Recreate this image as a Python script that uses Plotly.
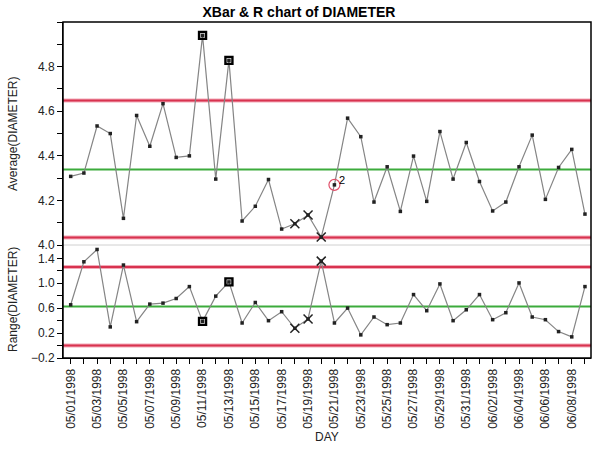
import plotly.graph_objects as go
from plotly.subplots import make_subplots
import pandas as pd

# ---- data ----
days = pd.date_range("1998-05-01", "1998-06-09", freq="D").strftime("%Y-%m-%d").tolist()

xbar = [4.308, 4.323, 4.534, 4.500, 4.120, 4.581, 4.443, 4.634, 4.393, 4.400,
        4.940, 4.296, 4.828, 4.108, 4.174, 4.294, 4.072, 4.096, 4.135, 4.036,
        4.270, 4.569, 4.486, 4.193, 4.351, 4.151, 4.399, 4.196, 4.509, 4.296,
        4.460, 4.285, 4.153, 4.193, 4.351, 4.493, 4.205, 4.348, 4.429, 4.139]

rng = [0.654, 1.344, 1.542, 0.299, 1.292, 0.383, 0.665, 0.681, 0.755, 0.946,
       0.388, 0.793, 1.021, 0.362, 0.691, 0.399, 0.543, 0.277, 0.426, 1.355,
       0.362, 0.601, 0.171, 0.458, 0.335, 0.362, 0.818, 0.559, 0.989, 0.399,
       0.574, 0.818, 0.415, 0.527, 1.005, 0.458, 0.415, 0.224, 0.139, 0.946]

xbar_lcl, xbar_cl, xbar_ucl = 4.034, 4.339, 4.648
r_lcl, r_cl, r_ucl = 0.0, 0.627, 1.262

square_rows = [10, 12]          # row-state markers (0-based)
x_rows = [17, 18, 19]
test2_rows = [20]

xbar_ticks = [4.0, 4.2, 4.4, 4.6, 4.8]
r_ticks = [-0.2, 0.2, 0.6, 1.0, 1.4]

FONT = "Arial, Liberation Sans, sans-serif"

fig = make_subplots(rows=2, cols=1, shared_xaxes=True, vertical_spacing=0,
                    row_heights=[0.664, 0.336])

RED_HALO = "#f3a9b8"
RED = "#d8334f"
GREEN = "#3cab3c"

def hline(row, v, color, halo=None):
    yref = "y" if row == 1 else "y2"
    if halo:
        fig.add_shape(type="line", xref="x domain", yref=yref, x0=0, x1=1, y0=v, y1=v,
                      line=dict(color=halo, width=4), layer="below")
    fig.add_shape(type="line", xref="x domain", yref=yref, x0=0, x1=1, y0=v, y1=v,
                  line=dict(color=color, width=2), layer="below")

for v in (xbar_lcl, xbar_ucl):
    hline(1, v, RED, RED_HALO)
hline(1, xbar_cl, GREEN)
for v in (r_lcl, r_ucl):
    hline(2, v, RED, RED_HALO)
hline(2, r_cl, GREEN)

def add_series(vals, row, with_test=False):
    fig.add_trace(go.Scatter(x=days, y=vals, mode="lines+markers",
                             line=dict(color="#858585", width=1.2),
                             marker=dict(symbol="square", size=3.5, color="#222222"),
                             showlegend=False, hoverinfo="skip"), row=row, col=1)
    fig.add_trace(go.Scatter(x=[days[i] for i in square_rows], y=[vals[i] for i in square_rows],
                             mode="markers",
                             marker=dict(symbol="square-open", size=7, color="black",
                                         line=dict(width=2.4, color="black")),
                             showlegend=False), row=row, col=1)
    fig.add_trace(go.Scatter(x=[days[i] for i in x_rows], y=[vals[i] for i in x_rows],
                             mode="markers",
                             marker=dict(symbol="x-thin-open", size=9, color="#222222",
                                         line=dict(width=1.5, color="#222222")),
                             showlegend=False), row=row, col=1)
    if with_test:
        fig.add_trace(go.Scatter(x=[days[i] for i in test2_rows], y=[vals[i] for i in test2_rows],
                                 mode="markers",
                                 marker=dict(symbol="circle-open", size=11, color="#e0506a",
                                             line=dict(width=1.2, color="#e0506a")),
                                 showlegend=False), row=row, col=1)
        for i in test2_rows:
            fig.add_annotation(x=days[i], y=vals[i], xref="x", yref="y", text="2",
                               showarrow=False, xshift=8, yshift=5,
                               xanchor="center", yanchor="middle",
                               font=dict(family=FONT, size=11, color="black"))

add_series(xbar, 1, with_test=True)
add_series(rng, 2)

DAY_MS = 86400000
axis_common = dict(showline=True, linecolor="black", linewidth=1, ticks="outside",
                   ticklen=5, tickcolor="black", showgrid=False, zeroline=False,
                   automargin=False,
                   tickfont=dict(family=FONT, size=12, color="#222222"))

fig.update_xaxes(row=1, col=1, showticklabels=False, ticks="", showgrid=False,
                 showline=False, zeroline=False, automargin=False)
fig.update_xaxes(row=2, col=1, type="date",
                 range=["1998-04-30 10:00", "1998-06-09 11:00"],
                 tick0="1998-05-01", dtick=2 * DAY_MS, tickformat="%m/%d/%Y",
                 tickangle=-90, minor=dict(dtick=DAY_MS, tick0="1998-05-01",
                                           ticks="outside", ticklen=5, tickcolor="black"),
                 **axis_common)
fig.update_yaxes(row=1, col=1, range=[4.0, 5.0], tickmode="array", tickvals=xbar_ticks,
                 tickformat=".1f",
                 minor=dict(dtick=0.1, tick0=4.0, ticks="outside", ticklen=5, tickcolor="black"),
                 **axis_common)
fig.update_yaxes(row=2, col=1, range=[-0.2, 1.612], tickmode="array", tickvals=r_ticks,
                 tickformat=".1f",
                 minor=dict(dtick=0.2, tick0=-0.2, ticks="outside", ticklen=5, tickcolor="black"),
                 **axis_common)

# frame: black outer box, light gray separator between panels
fig.add_shape(type="rect", xref="paper", yref="paper", x0=0, x1=1, y0=0, y1=1,
              line=dict(color="black", width=1.5), layer="above")
fig.add_shape(type="line", xref="paper", yref="paper", x0=0, x1=1, y0=0.3363, y1=0.3363,
              line=dict(color="#d0d0d0", width=1), layer="below")

W, H = 610, 457
L, T = 63, 22
R = W - 591
B = H - 358
pw, ph = W - L - R, H - T - B

def px_x(px):
    return (px - L) / pw

def px_y(py):
    return (H - B - py) / ph

def label(text, x, y, angle=0):
    fig.add_annotation(text=text, xref="paper", yref="paper",
                       x=px_x(x), y=px_y(y), textangle=angle, showarrow=False,
                       xanchor="center", yanchor="middle",
                       font=dict(family=FONT, size=12, color="#222222"))

label("Average(DIAMETER)", 13, 134, -90)
label("Range(DIAMETER)", 13, 300, -90)
label("DAY", 327, 437)

fig.update_layout(
    width=W, height=H, autosize=False,
    margin=dict(l=L, r=R, t=T, b=B, autoexpand=False),
    paper_bgcolor="white", plot_bgcolor="white",
    title=dict(text="<b>XBar & R chart of DIAMETER</b>", x=299 / W, xanchor="center",
               y=1 - 12 / H, yanchor="middle",
               font=dict(family=FONT, size=14, color="black")),
    showlegend=False,
)

# remove the default 8px page margin so the figure sits at the window's corner
fig.write_html("out.html", config={"displayModeBar": False},
               post_script="document.body.style.margin='0px';")
